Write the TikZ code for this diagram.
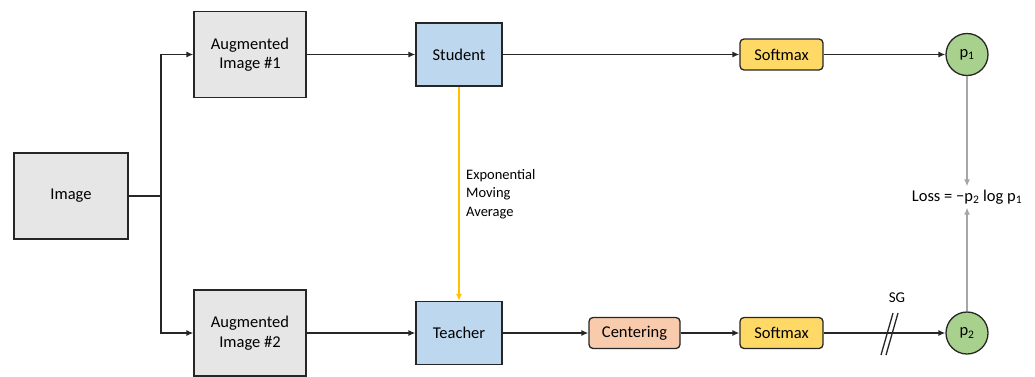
\documentclass[tikz,border=0pt]{standalone}
\usepackage{fontspec}
\setmainfont{Carlito}
\usetikzlibrary{arrows.meta}
\definecolor{boxgray}{HTML}{E7E6E6}
\definecolor{boxblue}{HTML}{BDD7EE}
\definecolor{boxyellow}{HTML}{FFD966}
\definecolor{boxorange}{HTML}{F8CBAD}
\definecolor{boxgreen}{HTML}{A9D18E}
\definecolor{emaline}{HTML}{FFC000}
\definecolor{lossline}{HTML}{A6A6A6}
\tikzset{
  mainfont/.style={font=\fontsize{16.5}{19.5}\selectfont},
  graybox/.style={draw=black!85, line width=1.3pt, fill=boxgray, minimum width=114pt, minimum height=86pt, align=center, mainfont, inner sep=0pt},
  augbox/.style={graybox, minimum width=112pt},
  netbox/.style={draw=black!85, line width=1.3pt, fill=boxblue, minimum width=86pt, minimum height=63pt, mainfont, inner sep=0pt},
  opbox/.style={draw=black!85, line width=1.3pt, rounded corners=4pt, minimum height=31pt, mainfont, inner sep=0pt},
  probnode/.style={circle, draw=black!85, line width=1.3pt, fill=boxgreen, minimum size=42pt, inner sep=0pt, mainfont},
  conn/.style={draw=black!85, line width=1.3pt, -{Latex[length=7pt,width=6pt]}},
  lossconn/.style={draw=lossline, line width=1.3pt, -{Latex[length=7pt,width=6pt]}},
}
\begin{document}
\begin{tikzpicture}[x=1pt,y=-1pt]
\useasboundingbox (0,0) rectangle (1035,376);
\node[graybox] (img) at (71,196) {Image};
\node[augbox] (aug1) at (250,54.5) {Augmented\\Image \#1};
\node[augbox] (aug2) at (250,333) {Augmented\\Image \#2};
\node[netbox] (stu) at (459,54.5) {Student};
\node[netbox] (tea) at (459,333) {Teacher};
\node[opbox, fill=boxyellow, minimum width=83pt] (sm1) at (781.5,54.5) {Softmax};
\node[opbox, fill=boxorange, minimum width=91pt] (cen) at (634.5,333) {Centering};
\node[opbox, fill=boxyellow, minimum width=83pt] (sm2) at (781.5,333) {Softmax};
\node[probnode] (p1) at (967,54.5) {p\textsubscript{1}};
\node[probnode] (p2) at (967,333) {p\textsubscript{2}};
\node[mainfont] (loss) at (967,197) {Loss = −p\textsubscript{2} log p\textsubscript{1}};
\node[font=\fontsize{14.5}{18.5}\selectfont, align=left, anchor=west, inner sep=0pt] (ema) at (466,194) {Exponential\\Moving\\Average};
\node[font=\fontsize{15}{17}\selectfont, inner sep=0pt] (sg) at (897,298) {SG};
\coordinate (junc) at (161,196);
\draw[draw=black!85, line width=1.3pt] (img.east) -- (junc);
\draw[conn] (junc) |- (aug1.west);
\draw[conn] (junc) |- (aug2.west);
\draw[conn] (aug1.east) -- (stu.west);
\draw[conn] (aug2.east) -- (tea.west);
\draw[conn] (stu.east) -- (sm1.west);
\draw[conn] (sm1.east) -- (p1.west);
\draw[conn] (tea.east) -- (cen.west);
\draw[conn] (cen.east) -- (sm2.west);
\draw[conn] (sm2.east) -- (p2.west);
\draw[draw=emaline, line width=1.3pt, -{Latex[length=7pt,width=6pt]}] (stu.south) -- (tea.north);
\draw[lossconn] (p1.south) -- (loss.north);
\draw[lossconn] (p2.north) -- (loss.south);
\coordinate (sga) at (881,355);
\coordinate (sgb) at (893,313);
\coordinate (sgc) at (886,355);
\coordinate (sgd) at (898,313);
\draw[black!85, line width=1.3pt] (sga) -- (sgb);
\draw[black!85, line width=1.3pt] (sgc) -- (sgd);
\end{tikzpicture}
\end{document}
